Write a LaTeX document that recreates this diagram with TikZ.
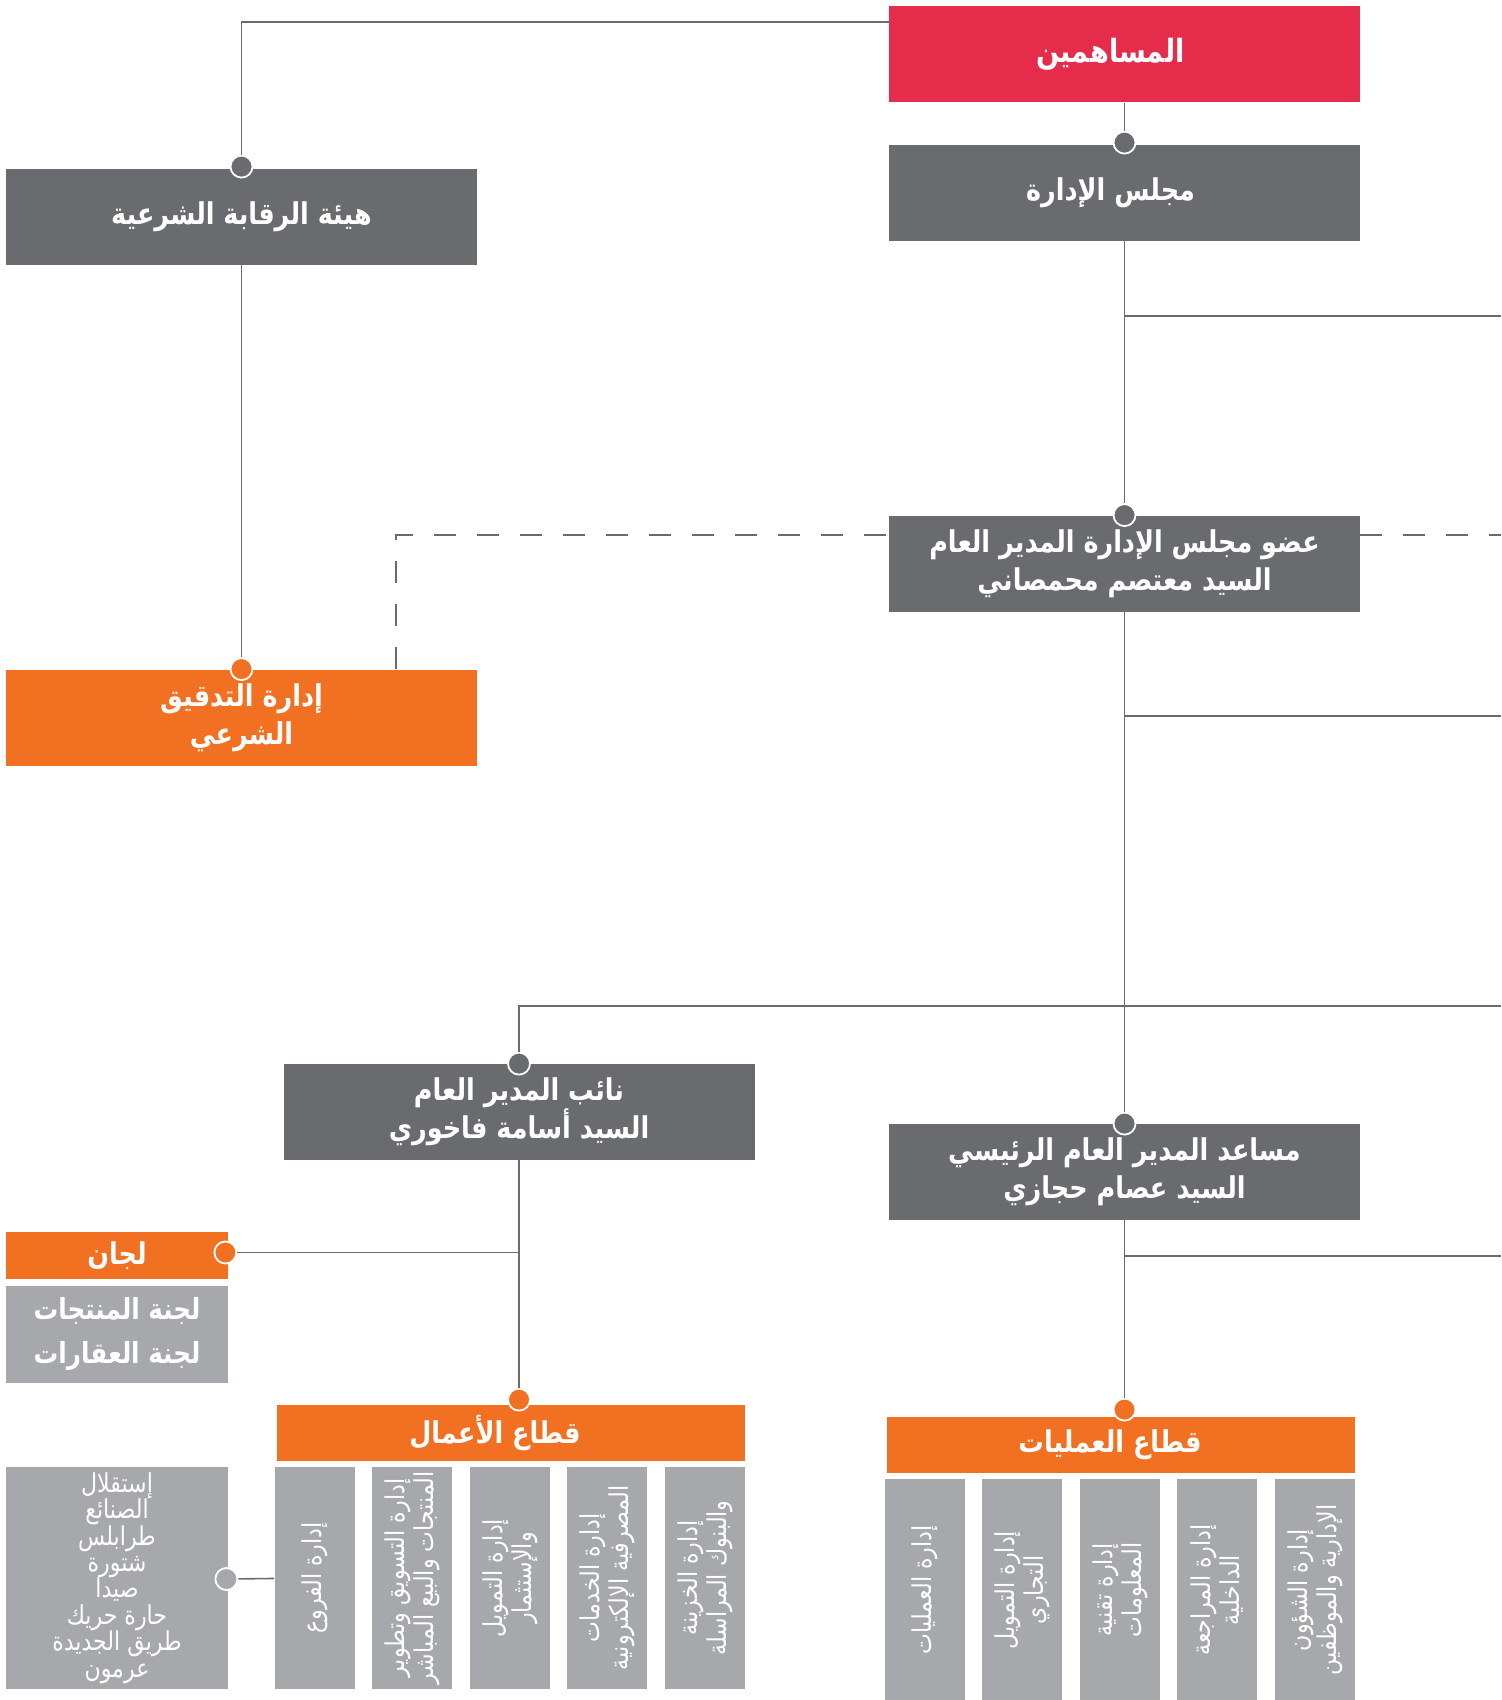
\documentclass[tikz,border=0pt]{standalone}
\usepackage{fontspec}
\usepackage{tikz}
\usetikzlibrary{positioning,calc}
\TeXXeTstate=1
\newfontfamily\arabicfont[Script=Arabic,FakeStretch=0.85]{DejaVu Sans}
\newcommand{\ar}[1]{\beginR #1\endR}
\definecolor{shred}{HTML}{E52D4B}
\definecolor{dgrey}{HTML}{6A6B6F}
\definecolor{lgrey}{HTML}{A7A8AC}
\definecolor{orng}{HTML}{F27021}

\begin{document}
\begin{tikzpicture}[x=0.5pt,y=-0.5pt]
\tikzstyle{title} = [text=white, align=center, inner sep=0pt, font=\arabicfont\bfseries\fontsize{15}{19}\selectfont]
\tikzstyle{greybox} = [rectangle, fill=dgrey, title, minimum width=235.5pt, minimum height=48pt]
\tikzstyle{redbox} = [greybox, fill=shred]
\tikzstyle{orangebox} = [greybox, fill=orng]
\tikzstyle{orangebar} = [rectangle, fill=orng, title, minimum width=234pt, minimum height=28pt]
\tikzstyle{smallhead} = [rectangle, fill=orng, title, minimum width=111pt, minimum height=23.5pt]
\tikzstyle{listbox} = [rectangle, fill=lgrey, title, minimum width=111pt]
\tikzstyle{subbox} = [rectangle, fill=lgrey, text=white, align=center, inner sep=0pt, rotate=90, minimum width=111pt, minimum height=40pt, font=\arabicfont\fontsize{13}{14.5}\selectfont]
\tikzstyle{dot} = [circle, draw=white, line width=0.9pt, minimum size=11pt, inner sep=0pt]
\tikzstyle{link} = [draw=dgrey, line width=0.8pt]
\tikzstyle{dashline} = [link, dash pattern=on 11pt off 10.5pt]

\useasboundingbox (0,0) rectangle (1501,1700);

% top of the chart
\node (sh) [redbox, font=\arabicfont\bfseries\fontsize{16}{19}\selectfont] at (1124.5,54.5) {\ar{المساهمين}\hspace*{14pt}};
\node (board) [greybox] at (1124.5,193) {\ar{مجلس الإدارة}\hspace*{14pt}};
\node (shb) [greybox] at (241.5,217) {\ar{هيئة الرقابة الشرعية}};
\node (gm) [greybox] at (1124.5,563.5) {\ar{عضو مجلس الإدارة المدير العام}\\\ar{السيد معتصم محمصاني}};
\node (audit) [orangebox] at (241.5,717.5) {\ar{إدارة التدقيق}\\\ar{الشرعي}};

% middle
\node (dep) [greybox] at (519,1112) {\ar{نائب المدير العام}\\\ar{السيد أسامة فاخوري}};
\node (asst) [greybox] at (1124.5,1172) {\ar{مساعد المدير العام الرئيسي}\\\ar{السيد عصام حجازي}};
\node (comm) [smallhead] at (117,1255.5) {\ar{لجان}};
\node (commlist) [listbox, minimum height=48.5pt, font=\arabicfont\bfseries\fontsize{14.5}{22}\selectfont] at (117,1334.5) {\ar{لجنة المنتجات}\\\ar{لجنة العقارات}};

% sectors
\node (biz) [orangebar] at (511,1433) {\ar{قطاع الأعمال}\hspace*{16pt}};
\node (ops) [orangebar] at (1121,1445) {\ar{قطاع العمليات}\hspace*{11pt}};
\node (branches) [listbox, minimum height=111pt, font=\arabicfont\fontsize{13}{13.2}\selectfont] at (117,1578) {\ar{إستقلال}\\\ar{الصنائع}\\\ar{طرابلس}\\\ar{شتورة}\\\ar{صيدا}\\\ar{حارة حريك}\\\ar{طريق الجديدة}\\\ar{عرمون}};

\node (b1) [subbox] at (314.5,1578) {\ar{إدارة الفروع}};
\node (b2) [subbox] at (412,1578) {\ar{إدارة التسويق وتطوير}\\\ar{المنتجات والبيع المباشر}};
\node (b3) [subbox] at (510,1578) {\ar{إدارة التمويل}\\\ar{والإستثمار}};
\node (b4) [subbox] at (607,1578) {\ar{إدارة الخدمات}\\\ar{المصرفية الإلكترونية}};
\node (b5) [subbox] at (705,1578) {\ar{إدارة الخزينة}\\\ar{والبنوك المراسلة}};

\node (o1) [subbox] at (925,1590) {\ar{إدارة العمليات}};
\node (o2) [subbox] at (1022,1590) {\ar{إدارة التمويل}\\\ar{التجاري}};
\node (o3) [subbox] at (1120,1590) {\ar{إدارة تقنية}\\\ar{المعلومات}};
\node (o4) [subbox] at (1217,1590) {\ar{إدارة المراجعة}\\\ar{الداخلية}};
\node (o5) [subbox] at (1315,1590) {\ar{إدارة الشؤون}\\\ar{الإدارية والموظفين}};

% dots
\node (dBoard) [dot, fill=dgrey] at ($(board.north)+(0,-2)$) {};
\node (dShb) [dot, fill=dgrey] at ($(shb.north)+(0,-2)$) {};
\node (dGm) [dot, fill=dgrey] at (gm.north) {};
\node (dAudit) [dot, fill=orng] at (audit.north) {};
\node (dDep) [dot, fill=dgrey] at (dep.north) {};
\node (dAsst) [dot, fill=dgrey] at (asst.north) {};
\node (dComm) [dot, fill=orng] at ($(comm.east)+(-3,-3)$) {};
\node (dBiz) [dot, fill=orng] at ($(dep.south |- biz.north)+(0,-5)$) {};
\node (dOps) [dot, fill=orng] at ($(asst.south |- ops.north)+(0,-7)$) {};
\node (dBr) [dot, fill=lgrey] at ($(branches.east)+(-2,1)$) {};

% free ends on the right edge
\coordinate (r1) at (1501,316);
\coordinate (r2) at (1501,716);
\coordinate (r3) at (1501,1006);
\coordinate (r4) at (1501,1256);
\coordinate (r5) at (1501,535);
\coordinate (dc) at (396,535);

% connectors
\draw [link] ($(sh.north west)+(0,16)$) -| (dShb);
\draw [link] (sh) -- (dBoard);
\draw [link] (board) -- (dGm);
\draw [link] (board.south |- r1) -- (r1);
\draw [link] (shb) -- (dAudit);
\draw [dashline] (audit.north -| dc) -- (dc) -- (gm.west |- dc);
\draw [dashline] (gm.east |- dc) -- (r5);
\draw [link] (gm) -- (dAsst);
\draw [link] (gm.south |- r2) -- (r2);
\draw [link] (r3) -| (dDep);
\draw [link] (asst.south |- r4) -- (r4);
\draw [link] (asst) -- (dOps);
\draw [link] (dep) -- (dBiz);
\draw [link] (dComm) -- (dep.south |- dComm);
\draw [link] (dBr) -- (b1);
\end{tikzpicture}
\end{document}
